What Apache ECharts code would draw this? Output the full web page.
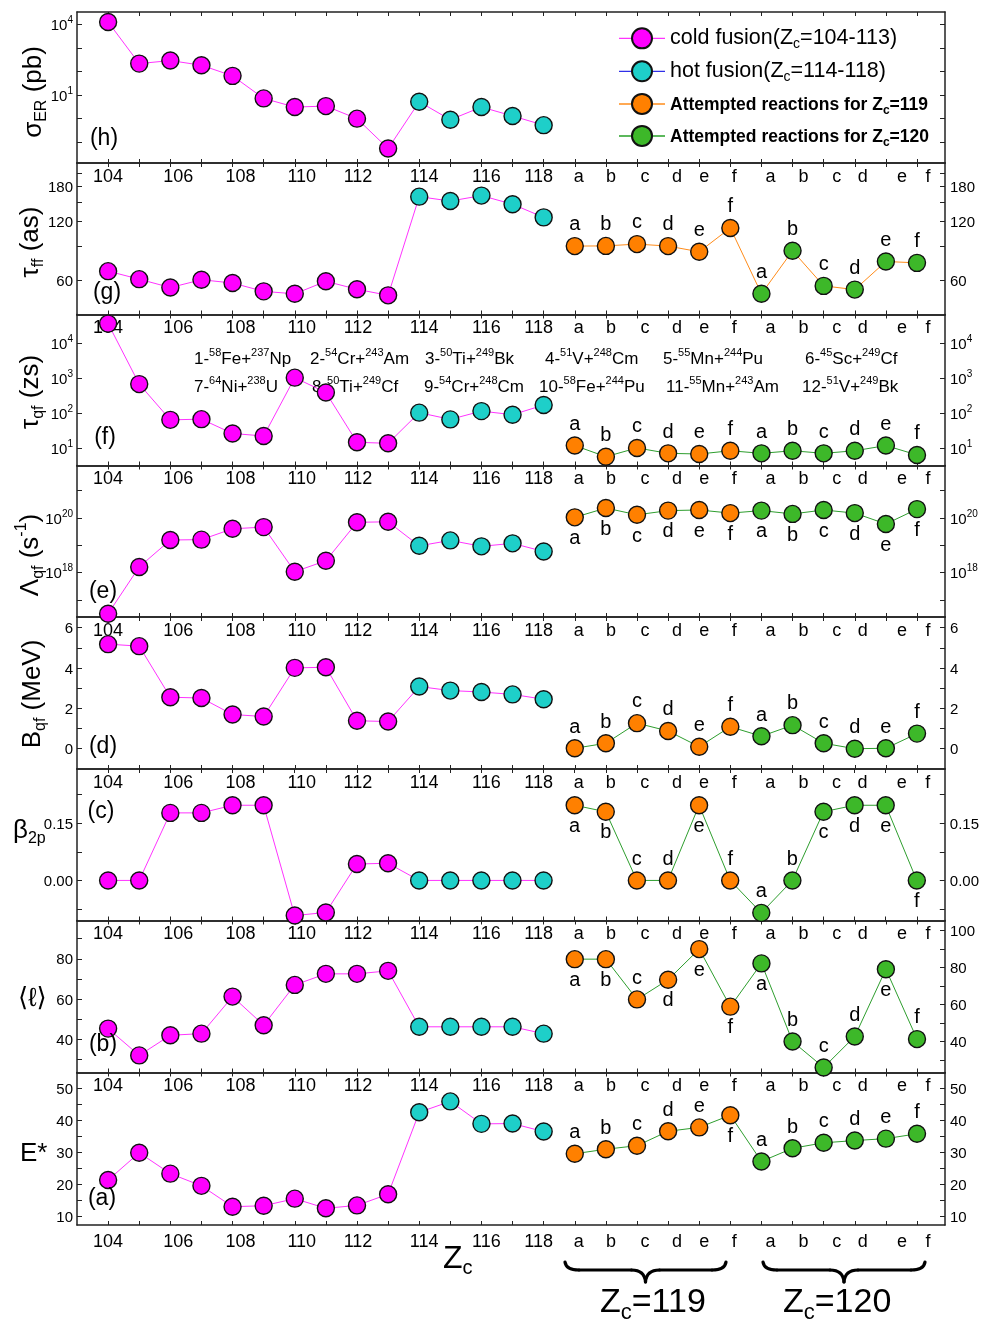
<!DOCTYPE html>
<html><head><meta charset="utf-8">
<script src="https://cdn.jsdelivr.net/npm/echarts@6.0.0/dist/echarts.min.js"></script>
<style>html,body{margin:0;padding:0;background:#fff;}#chart{width:982px;height:1323px;}</style>
</head><body><div id="chart"></div>
<script>
// ===================== DATA =====================
const coldZ = [104,105,106,107,108,109,110,111,112,113];
const hotZ = [114,115,116,117,118];
const reactionLetters = ['a','b','c','d','e','f'];
const xTickLabels = ['104','106','108','110','112','114','116','118','a','b','c','d','e','f','a','b','c','d','e','f'];

// (h) sigma_ER (pb)
const sigmaCold = [12500, 215, 290, 183, 65, 7.2, 3.1, 3.4, 1.0, 0.054];
const sigmaHot = [5.2, 0.9, 3.1, 1.3, 0.53];
// (g) tau_ff (as)
const tauFFCold = [67, 61, 55.3, 60.6, 58.3, 52.9, 51.4, 59.5, 54.2, 50.5];
const tauFFHot = [160, 152, 162, 146.5, 125.6];
const tauFF119 = [89.8, 90, 91.9, 89.8, 84, 111];
const tauFF120 = [51.4, 85, 56.4, 54, 75, 73.8];
// (f) tau_qf (zs)
const tauQFCold = [37000, 680, 64, 67, 26, 22, 1040, 390, 14.5, 13.6];
const tauQFHot = [103, 66, 114, 90, 170];
const tauQF119 = [11.7, 5.6, 10, 7, 6.7, 8.3];
const tauQF120 = [7, 8.3, 7, 8.3, 11.7, 6.3];
// (e) Lambda_qf (s^-1)
const lambdaCold = [3.1e16, 1.6e18, 1.55e19, 1.6e19, 4.0e19, 4.6e19, 1.07e18, 2.7e18, 6.9e19, 7.2e19];
const lambdaHot = [9.5e18, 1.5e19, 9.1e18, 1.17e19, 5.9e18];
const lambda119 = [1.05e20, 2.3e20, 1.3e20, 1.85e20, 1.95e20, 1.5e20];
const lambda120 = [1.85e20, 1.4e20, 1.95e20, 1.5e20, 6.0e19, 2.1e20];
// (d) B_qf (MeV)
const bqfCold = [5.18, 5.08, 2.54, 2.5, 1.68, 1.58, 4.0, 4.03, 1.37, 1.33];
const bqfHot = [3.07, 2.87, 2.8, 2.68, 2.44];
const bqf119 = [0.0, 0.25, 1.25, 0.86, 0.08, 1.07];
const bqf120 = [0.6, 1.15, 0.25, -0.02, 0.0, 0.73];
// (c) beta_2p
const betaCold = [0, 0, 0.177, 0.177, 0.197, 0.197, -0.092, -0.084, 0.043, 0.045];
const betaHot = [0, 0, 0, 0, 0];
const beta119 = [0.197, 0.18, 0, 0, 0.197, 0];
const beta120 = [-0.085, 0, 0.18, 0.197, 0.197, 0];
// (b) <l>
const ellCold = [45.3, 32, 42, 42.8, 61.2, 47, 67, 72.5, 72.5, 74];
const ellHot = [46.2, 46.2, 46.2, 46.2, 42.8];
const ell119 = [79.8, 79.8, 59.8, 69.6, 84.8, 56.2];
const ell120 = [77.7, 38.9, 26, 41.4, 74.8, 40.1];
// (a) E*
const eCold = [21.4, 29.9, 23.4, 19.6, 13.1, 13.4, 15.6, 12.6, 13.5, 17.0];
const eHot = [42.5, 45.9, 38.9, 39.0, 36.5];
const e119 = [29.6, 31.0, 32.1, 36.6, 37.8, 41.6];
const e120 = [27.2, 31.3, 33.0, 33.7, 34.3, 35.8];

// reaction list (panel f)
const reactionsRow1 = [['1-','58','Fe+','237','Np'],['2-','54','Cr+','243','Am'],['3-','50','Ti+','249','Bk'],['4-','51','V+','248','Cm'],['5-','55','Mn+','244','Pu'],['6-','45','Sc+','249','Cf']];
const reactionsRow2 = [['7-','64','Ni+','238','U'],['8-','50','Ti+','249','Cf'],['9-','54','Cr+','248','Cm'],['10-','58','Fe+','244','Pu'],['11-','55','Mn+','243','Am'],['12-','51','V+','249','Bk']];

// ===================== LAYOUT / STYLE =====================
const FONT = '"Liberation Sans", Arial, "DejaVu Sans", sans-serif';
const W = 982;
const plotLeft = 77, plotRight = 945;
const panelEdges = [12, 163, 314.5, 465.5, 617, 769, 920.5, 1072.5, 1225];
const xMin = -1, xMax = 26.9;
const pxPerUnit = (plotRight - plotLeft) / (xMax - xMin);
const xLabelShiftPx = [0, 8, 8, 7, 1, 5, 5, -5, 4, 5, 8, 9, 5, 4, 9, 11, 13, 8, 16, 11];
const MAG = '#FF00FF', CYAN = '#1ECFC9', ORANGE = '#FF8000', GREEN = '#3DB829';
const LINK_MAG = '#FF33FF', LINK_OR = '#FF8C1A', LINK_GR = '#2E9E2E';
const EDGE = '#222';
const MARK = 17;

// rich-text styles with real subscript / superscript placement
function richStyles(F, f, opt) {
  opt = opt || {};
  const pt = opt.pt != null ? opt.pt : Math.round(0.3 * F);
  const LH = Math.max(pt + F, pt + 0.8 * F + f / 2);
  const base = {fontFamily: FONT, color: '#000', fontWeight: opt.weight || 'normal'};
  return {
    n: Object.assign({}, base, {fontSize: F, height: F, verticalAlign: 'top', padding: [pt, 0, 0, 0]}),
    sub: Object.assign({}, base, {fontSize: f, height: f, verticalAlign: 'bottom', padding: [Math.max(0, LH - f), 0, 0, 0]}),
    sup: Object.assign({}, base, {fontSize: f, height: f, verticalAlign: 'top', padding: [Math.max(0, pt + 0.12 * F - f / 2), 0, 0, 0]})
  };
}

const ident = v => v;
const panels = [
  {cold: sigmaCold, hot: sigmaHot, r119: null, r120: null, log: true,
   yMin: -1.88, yMax: 4.52, ticks: [0.1, 1, 10, 100, 1000, 10000], labels: [10, 10000], rLabels: [], fmt: 'pow'},
  {cold: tauFFCold, hot: tauFFHot, r119: tauFF119, r120: tauFF120, log: true, link: LINK_OR,
   pos119: 'tttttt', pos120: 'tttttt',
   yMin: 1.606, yMax: 2.375, ticks: [60, 90, 120, 150, 180, 210], labels: [60, 120, 180], fmt: 'exp'},
  {cold: tauQFCold, hot: tauQFHot, r119: tauQF119, r120: tauQF120, log: true, link: LINK_GR,
   pos119: 'tttttt', pos120: 'tttttt',
   yMin: 0.496, yMax: 4.83, ticks: [10, 100, 1000, 10000], labels: [10, 100, 1000, 10000], fmt: 'pow'},
  {cold: lambdaCold, hot: lambdaHot, r119: lambda119, r120: lambda120, log: true, link: LINK_GR,
   pos119: 'bbbbbb', pos120: 'bbbbbb',
   yMin: 16.37, yMax: 21.92, ticks: [1e17, 1e18, 1e19, 1e20, 1e21], labels: [1e18, 1e20], fmt: 'pow'},
  {cold: bqfCold, hot: bqfHot, r119: bqf119, r120: bqf120, log: false, link: LINK_GR,
   pos119: 'tttttt', pos120: 'tttttt',
   yMin: -1.03, yMax: 6.53, ticks: [0, 1, 2, 3, 4, 5, 6], labels: [0, 2, 4, 6], fmt: 'int'},
  {cold: betaCold, hot: betaHot, r119: beta119, r120: beta120, log: false, link: LINK_GR,
   pos119: 'bbttbt', pos120: 'ttbbbb',
   yMin: -0.105, yMax: 0.292, ticks: [-0.075, 0, 0.075, 0.15, 0.225], labels: [0, 0.15], fmt: 'fix2'},
  {cold: ellCold, hot: ellHot, r119: ell119, r120: ell120, log: false, link: LINK_GR,
   pos119: 'bbtbbb', pos120: 'btttbt',
   yMin: 23.5, yMax: 99, ticks: [30, 40, 50, 60, 70, 80, 90], labels: [40, 60, 80], fmt: 'int',
   rMin: 23.2, rMax: 105.4, rTicks: [30, 40, 50, 60, 70, 80, 90, 100], rLabels: [40, 60, 80, 100]},
  {cold: eCold, hot: eHot, r119: e119, r120: e120, log: false, link: LINK_GR,
   pos119: 'tttttb', pos120: 'tttttt',
   yMin: 7.4, yMax: 54.9, ticks: [10, 15, 20, 25, 30, 35, 40, 45, 50], labels: [10, 20, 30, 40, 50], fmt: 'int'}
];

// ===================== BUILD =====================
const nCold = coldZ.length, nHot = hotZ.length;
const idx119 = nCold + nHot, idx120 = idx119 + reactionLetters.length;
const xTickIdx = [];
for (let i = 0; i <= idx120 + reactionLetters.length - 1; i++) xTickIdx.push(i);
const xLabelIdx = [];
coldZ.concat(hotZ).forEach((z, i) => { if (z % 2 === 0) xLabelIdx.push(i); });
for (let k = 0; k < 12; k++) xLabelIdx.push(idx119 + k);
const xLabelPos = xLabelIdx.map((v, i) => v + xLabelShiftPx[i] / pxPerUnit);
const xLabelFmt = val => {
  const i = xLabelPos.findIndex(p => Math.abs(p - val) < 1e-6);
  return i >= 0 ? xTickLabels[i] : '';
};

const tickRich = richStyles(15, 10, {pt: 3});
const fmtFns = {
  pow: v => '{n|10}{sup|' + Math.round(v) + '}',
  exp: v => '{n|' + Math.round(Math.pow(10, v)) + '}',
  int: v => '{n|' + Math.round(v) + '}',
  fix2: v => '{n|' + v.toFixed(2) + '}'
};

const grid = [], xAxis = [], yAxis = [], series = [];
const axLine = {show: true, onZero: false, lineStyle: {color: EDGE, width: 1.5}};
const last = panels.length - 1;

panels.forEach((p, i) => {
  const tf = p.log ? Math.log10 : ident;
  const top = panelEdges[i], bottom = panelEdges[i + 1];
  grid.push({left: plotLeft, right: W - plotRight, top: top, height: bottom - top});
  const xTick = {show: true, inside: true, length: 4, customValues: xTickIdx, lineStyle: {color: EDGE, width: 1}};
  const xLab = {show: true, customValues: xLabelPos, formatter: xLabelFmt, fontSize: 18, fontFamily: FONT, color: '#000', hideOverlap: false};
  xAxis.push({gridIndex: i, type: 'value', min: xMin, max: xMax, position: 'bottom', axisLine: axLine, axisTick: xTick,
    splitLine: {show: false},
    axisLabel: i === last ? Object.assign({}, xLab, {margin: 8}) : {show: false}});
  xAxis.push({gridIndex: i, type: 'value', min: xMin, max: xMax, position: 'top', axisLine: axLine, axisTick: xTick,
    splitLine: {show: false},
    axisLabel: i === 0 ? {show: false} : Object.assign({}, xLab, {inside: true, margin: 5})});
  const yTicks = p.ticks.map(tf);
  const yLabels = p.labels.map(tf);
  const yLab = {show: true, customValues: yLabels, formatter: fmtFns[p.fmt], rich: tickRich, hideOverlap: false};
  yAxis.push({gridIndex: i, type: 'value', min: p.yMin, max: p.yMax, position: 'left', axisLine: axLine,
    axisTick: {show: true, inside: true, length: 5, customValues: yTicks, lineStyle: {color: EDGE}},
    axisLabel: Object.assign({}, yLab, {margin: 4}), splitLine: {show: false}});
  const rLabels = p.rLabels ? p.rLabels.map(tf) : yLabels;
  yAxis.push({gridIndex: i, type: 'value', min: p.rMin != null ? p.rMin : p.yMin, max: p.rMax != null ? p.rMax : p.yMax,
    position: 'right', axisLine: axLine,
    axisTick: {show: true, inside: true, length: 5, customValues: p.rTicks ? p.rTicks : yTicks, lineStyle: {color: EDGE}},
    axisLabel: rLabels.length ? Object.assign({}, yLab, {customValues: rLabels, margin: 5}) : {show: false},
    splitLine: {show: false}});

  const xi = 2 * i, yi = 2 * i;
  const coldPts = p.cold.map((v, k) => [k, tf(v)]);
  const hotPts = p.hot.map((v, k) => [nCold + k, tf(v)]);
  const base = {type: 'line', xAxisIndex: xi, yAxisIndex: yi, silent: true, animation: false};
  const markerStyle = c => ({color: c, borderColor: '#111', borderWidth: 1.4});
  // connecting line through cold + hot
  series.push(Object.assign({}, base, {data: coldPts.concat(hotPts), symbol: 'none', showSymbol: false,
    lineStyle: {color: LINK_MAG, width: 1}, z: 1}));
  if (p.r119) {
    const rPts = p.r119.map((v, k) => [idx119 + k, tf(v)]).concat(p.r120.map((v, k) => [idx120 + k, tf(v)]));
    series.push(Object.assign({}, base, {data: rPts, symbol: 'none', showSymbol: false,
      lineStyle: {color: p.link, width: 1}, z: 1}));
  }
  series.push(Object.assign({}, base, {name: 'cold', data: coldPts, symbol: 'circle', symbolSize: MARK,
    lineStyle: {opacity: 0}, itemStyle: markerStyle(MAG), z: 3}));
  series.push(Object.assign({}, base, {name: 'hot', data: hotPts, symbol: 'circle', symbolSize: MARK,
    lineStyle: {opacity: 0}, itemStyle: markerStyle(CYAN), z: 3}));
  if (p.r119) {
    const mk = (arr, start, pos) => arr.map((v, k) => ({value: [start + k, tf(v)],
      label: {position: pos[k] === 't' ? 'top' : 'bottom'}}));
    const lab = {show: true, formatter: q => reactionLetters[q.dataIndex], fontSize: 20, fontFamily: FONT, color: '#000', distance: 2};
    series.push(Object.assign({}, base, {name: 'r119', data: mk(p.r119, idx119, p.pos119), symbol: 'circle', symbolSize: MARK,
      lineStyle: {opacity: 0}, itemStyle: markerStyle(ORANGE), label: lab, z: 3}));
    series.push(Object.assign({}, base, {name: 'r120', data: mk(p.r120, idx120, p.pos120), symbol: 'circle', symbolSize: MARK,
      lineStyle: {opacity: 0}, itemStyle: markerStyle(GREEN), label: lab, z: 3}));
  }
});

// ===================== LEGEND =====================
const legRichA = richStyles(21.5, 14, {pt: 2});
const legRichB = richStyles(17.5, 12, {pt: 5});
Object.keys(legRichB).forEach(k => { legRichB[k].fontWeight = 'bold'; });
const legendRich = {n: legRichA.n, sub: legRichA.sub, b: legRichB.n, bsub: legRichB.sub};
const legendText = {
  cold: '{n|cold fusion(Z}{sub|c}{n|=104-113)}',
  hot: '{n|hot fusion(Z}{sub|c}{n|=114-118)}',
  r119: '{b|Attempted reactions for Z}{bsub|c}{b|=119}',
  r120: '{b|Attempted reactions for Z}{bsub|c}{b|=120}'
};

// ===================== GRAPHICS =====================
const graphics = [];
function addText(x, y, text, rich, opt) {
  opt = opt || {};
  graphics.push({type: 'text', x: x, y: y, rotation: opt.rot || 0, z: opt.z != null ? opt.z : 50, silent: true,
    style: {text: text, rich: rich, align: opt.align || 'left', verticalAlign: 'middle', fill: '#000',
      fontSize: opt.fs || 20, fontFamily: FONT}});
}
const titleRich = richStyles(26, 16, {pt: 4});
addText(33, 92, '{n|σ}{sub|ER}{n| (pb)}', titleRich, {rot: Math.PI / 2, align: 'center'});
addText(30, 242, '{n|τ}{sub|ff}{n| (as)}', titleRich, {rot: Math.PI / 2, align: 'center'});
addText(30, 392, '{n|τ}{sub|qf}{n| (zs)}', titleRich, {rot: Math.PI / 2, align: 'center'});
addText(30, 555, '{n|Λ}{sub|qf}{n| (s}{sup|-1}{n|)}', titleRich, {rot: Math.PI / 2, align: 'center'});
addText(32, 694, '{n|B}{sub|qf}{n| (MeV)}', titleRich, {rot: Math.PI / 2, align: 'center'});
addText(13, 830, '{n|β}{sub|2p}', titleRich, {});
addText(18, 997, '{n|⟨ℓ⟩}', titleRich, {});
addText(20, 1152, '{n|E*}', titleRich, {});

const panelTags = [['(h)', 104, 139], ['(g)', 107, 293], ['(f)', 105, 438], ['(e)', 103, 592],
  ['(d)', 103, 747], ['(c)', 101, 812], ['(b)', 103, 1045], ['(a)', 102, 1199]];
panelTags.forEach(t => addText(t[1], t[2], t[0], null, {align: 'center', fs: 23}));

const reacRich = richStyles(17, 11, {pt: 4});
const reacX1 = [194, 310, 425, 545, 663, 805], reacX2 = [194, 312, 424, 539, 666, 802];
const reacStr = r => '{n|' + r[0] + '}{sup|' + r[1] + '}{n|' + r[2] + '}{sup|' + r[3] + '}{n|' + r[4] + '}';
reactionsRow1.forEach((r, k) => addText(reacX1[k], 357, reacStr(r), reacRich, {z: 0}));
reactionsRow2.forEach((r, k) => addText(reacX2[k], 385, reacStr(r), reacRich, {z: 0}));

const bigRich = richStyles(32, 20, {pt: 2});
addText(443, 1260, '{n|Z}{sub|c}', bigRich, {});
const zRich = richStyles(34, 22, {pt: 2});
addText(600, 1304, '{n|Z}{sub|c}{n|=119}', zRich, {});
addText(783, 1304, '{n|Z}{sub|c}{n|=120}', zRich, {});

function brace(x1, x2, yT, yM, yB) {
  const xm = (x1 + x2) / 2, r = 14;
  const st = {stroke: '#000', lineWidth: 3.2, fill: 'none', lineCap: 'round'};
  const segs = [
    {type: 'bezierCurve', shape: {x1: x1, y1: yT, cpx1: x1 + 1, cpy1: yM, x2: x1 + r, y2: yM}},
    {type: 'line', shape: {x1: x1 + r, y1: yM, x2: xm - r, y2: yM}},
    {type: 'bezierCurve', shape: {x1: xm - r, y1: yM, cpx1: xm - 1, cpy1: yM, x2: xm, y2: yB}},
    {type: 'bezierCurve', shape: {x1: xm, y1: yB, cpx1: xm + 1, cpy1: yM, x2: xm + r, y2: yM}},
    {type: 'line', shape: {x1: xm + r, y1: yM, x2: x2 - r, y2: yM}},
    {type: 'bezierCurve', shape: {x1: x2 - r, y1: yM, cpx1: x2 - 1, cpy1: yM, x2: x2, y2: yT}}
  ];
  segs.forEach(s => { s.style = st; s.silent = true; s.z = 50; graphics.push(s); });
}
brace(565, 726, 1262, 1270, 1282);
brace(763, 925, 1262, 1270, 1282);

// ===================== OPTION =====================
const option = {
  animation: false,
  backgroundColor: '#fff',
  grid: grid, xAxis: xAxis, yAxis: yAxis, series: series,
  legend: {
    orient: 'vertical', left: 613, top: 22, itemWidth: 46, itemHeight: 25, itemGap: 8.5,
    selectedMode: false,
    data: [
      {name: 'cold', lineStyle: {color: LINK_MAG, width: 1.2, opacity: 1}},
      {name: 'hot', lineStyle: {color: '#2F2FE8', width: 1.2, opacity: 1}},
      {name: 'r119', lineStyle: {color: LINK_OR, width: 1.5, opacity: 1}},
      {name: 'r120', lineStyle: {color: '#5CB85C', width: 2, opacity: 1}}
    ],
    formatter: name => legendText[name],
    textStyle: {rich: legendRich}
  },
  graphic: {elements: graphics}
};
const chart = echarts.init(document.getElementById('chart'), null, {renderer: 'canvas'});
chart.setOption(option);
</script>
</body></html>
